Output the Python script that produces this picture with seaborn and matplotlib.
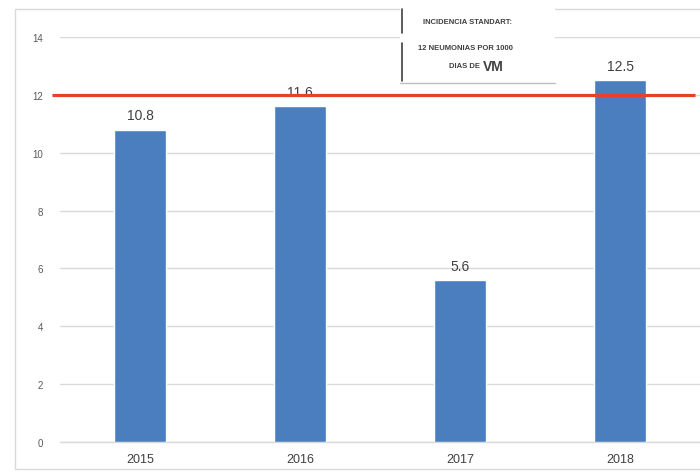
import matplotlib
matplotlib.use("Agg")
import matplotlib.pyplot as plt
import seaborn as sns
import pandas as pd
from matplotlib.patches import Rectangle
from matplotlib.lines import Line2D

# --------------------------------------
# DATA
# --------------------------------------

years = ["2015", "2016", "2017", "2018"]
incidence = [10.8, 11.6, 5.6, 12.5]
standard = 12
y_ticks = [0, 2, 4, 6, 8, 10, 12, 14]

df = pd.DataFrame({"year": years, "value": incidence})

# --------------------------------------
# FIGURE
# --------------------------------------

sns.set_style("white")
plt.rcParams["font.family"] = ["Liberation Sans", "DejaVu Sans"]

W, H = 700, 477
fig = plt.figure(figsize=(7, 4.77), dpi=100)
ax = fig.add_axes([60 / W, 34 / H, 640 / W, 405 / H])

# outer frame
fig.patches.append(Rectangle((15 / W, 7 / H), 700 / W, 460 / H,
                             transform=fig.transFigure, fill=False,
                             edgecolor="#d9d9d9", linewidth=1))

sns.barplot(data=df, x="year", y="value", color="#4a7ebf",
            width=0.32, saturation=1, ax=ax, zorder=3)

ax.set_ylim(0, 14)
ax.set_xlim(-0.5, 3.5)
ax.set_yticks(y_ticks)
ax.yaxis.grid(True, color="#d9d9d9", linewidth=1)
ax.axhline(0, color="#d9d9d9", linewidth=1, clip_on=False, zorder=1)
ax.set_axisbelow(True)
sns.despine(ax=ax, left=True, bottom=True, top=True, right=True)
ax.set_xlabel("")
ax.set_ylabel("")
ax.tick_params(axis="both", length=0)
ax.tick_params(axis="y", labelsize=7, labelcolor="#595959", pad=12)
ax.tick_params(axis="x", labelsize=9, labelcolor="#404040", pad=8)

for p, v in zip(ax.patches, incidence):
    ax.text(p.get_x() + p.get_width() / 2, v + 0.25, f"{v}",
            ha="center", va="bottom", fontsize=10, color="#404040")

ax.hlines(standard, -0.55, 3.47, color="#e8402a", linewidth=2.3,
          clip_on=False, zorder=4)

# --------------------------------------
# TEXT BOX
# --------------------------------------

fig.patches.append(Rectangle((400 / W, (H - 86) / H), 155 / W, 80 / H,
                             transform=fig.transFigure, facecolor="white",
                             edgecolor="none", zorder=5))
fig.lines.append(Line2D([400 / W, 555 / W], [(H - 84) / H, (H - 84) / H],
                        transform=fig.transFigure, color="#bfbfbf",
                        linewidth=1, zorder=6))
fig.lines.append(Line2D([402 / W, 402 / W], [(H - 10) / H, (H - 34) / H],
                        transform=fig.transFigure, color="#404040",
                        linewidth=1.2, zorder=6))
fig.lines.append(Line2D([402 / W, 402 / W], [(H - 44) / H, (H - 82) / H],
                        transform=fig.transFigure, color="#404040",
                        linewidth=1.2, zorder=6))

fig.text(468 / W, (H - 22) / H, "INCIDENCIA STANDART:", ha="center",
         va="center", fontsize=5.5, fontweight="bold", color="#404040",
         zorder=7)
fig.text(465 / W, (H - 49) / H, "12 NEUMONIAS POR 1000", ha="center",
         va="center", fontsize=5.5, fontweight="bold", color="#404040",
         zorder=7)
fig.text(480 / W, (H - 67) / H, "DIAS DE", ha="right",
         va="center", fontsize=5.5, fontweight="bold", color="#404040",
         zorder=7)
fig.text(483 / W, (H - 67) / H, "VM", ha="left",
         va="center", fontsize=10, fontweight="bold", color="#404040",
         zorder=7)

plt.savefig("out.png", dpi=100)
